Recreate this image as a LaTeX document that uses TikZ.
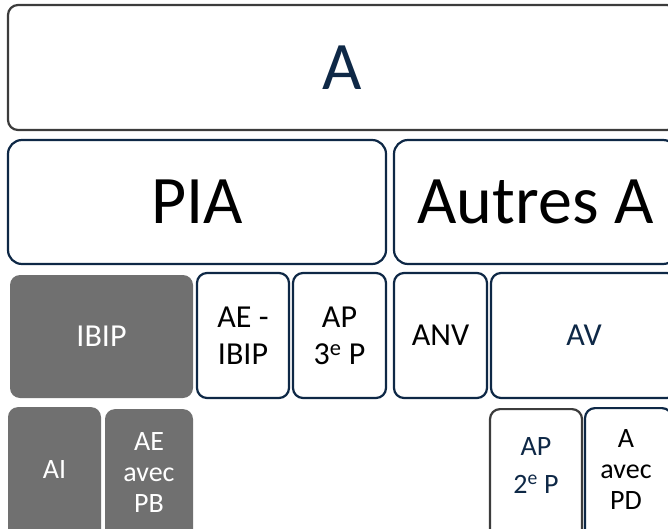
\documentclass[tikz,border=0pt]{standalone}
\usepackage{fontspec}
\setmainfont{Carlito}
\usetikzlibrary{positioning}
\definecolor{anavy}{RGB}{14,40,70}
\definecolor{agris}{RGB}{60,60,60}
\definecolor{afond}{RGB}{112,112,112}

\begin{document}
\begin{tikzpicture}[
  x=1pt, y=-1pt,
  box/.style={rectangle, rounded corners=10pt, draw=anavy, line width=2.2pt, fill=white,
              inner sep=0pt, align=center},
  boxgris/.style={box, draw=none, fill=afond, text=white},
  big/.style={font=\fontsize{68}{80}\selectfont},
  mid/.style={font=\fontsize{32}{37}\selectfont},
  small/.style={font=\fontsize{28}{31}\selectfont, align=center}
]
  \useasboundingbox (0,0) rectangle (668,529);
  \clip (0,0) rectangle (668,529);

  % A
  \node[box, big, draw=agris, text=anavy, minimum width=669pt, minimum height=125pt] (a) at (342.5,67.5) {A};

  % PIA / Autres A
  \node[box, big, rounded corners=14pt, minimum width=378pt, minimum height=124pt] (pia) at (197,202) {PIA};
  \node[box, big, rounded corners=14pt, minimum width=283pt, minimum height=124pt] (autres) at (535.5,202) {Autres A};

  % sous PIA
  \node[boxgris, mid, minimum width=183pt, minimum height=123pt] (ibip) at (101.5,336.5) {IBIP};
  \node[box, mid, minimum width=92pt, minimum height=125pt] (aeibip) at (243,335.5) {AE -\\IBIP};
  \node[box, mid, minimum width=93pt, minimum height=125pt] (ap3) at (339.5,335.5) {AP\\3\textsuperscript{e} P};

  % sous Autres A
  \node[box, mid, minimum width=93pt, minimum height=125pt] (anv) at (440.5,335.5) {ANV};
  \node[box, mid, text=anavy, minimum width=186pt, minimum height=125pt] (av) at (584,335.5) {AV};

  % dernier niveau
  \node[boxgris, anchor=north, minimum width=93pt, minimum height=140pt,
        label={[small, text=white, yshift=8pt]center:AI}] (ai) at (54.5,406) {};
  \node[boxgris, anchor=north, minimum width=88pt, minimum height=140pt,
        label={[small, text=white, yshift=7pt]center:AE\\avec\\PB}] (aepb) at (149,408) {};
  \node[box, draw=agris, anchor=north, minimum width=92pt, minimum height=140pt,
        label={[small, text=anavy, yshift=14pt]center:AP\\[7pt]2\textsuperscript{e} P}] (ap2) at (536,408) {};
  \node[box, anchor=north, minimum width=87pt, minimum height=140pt,
        label={[small, text=black, xshift=-2.5pt, yshift=9pt]center:A\\avec\\PD}] (apd) at (628.5,407) {};
\end{tikzpicture}
\end{document}
